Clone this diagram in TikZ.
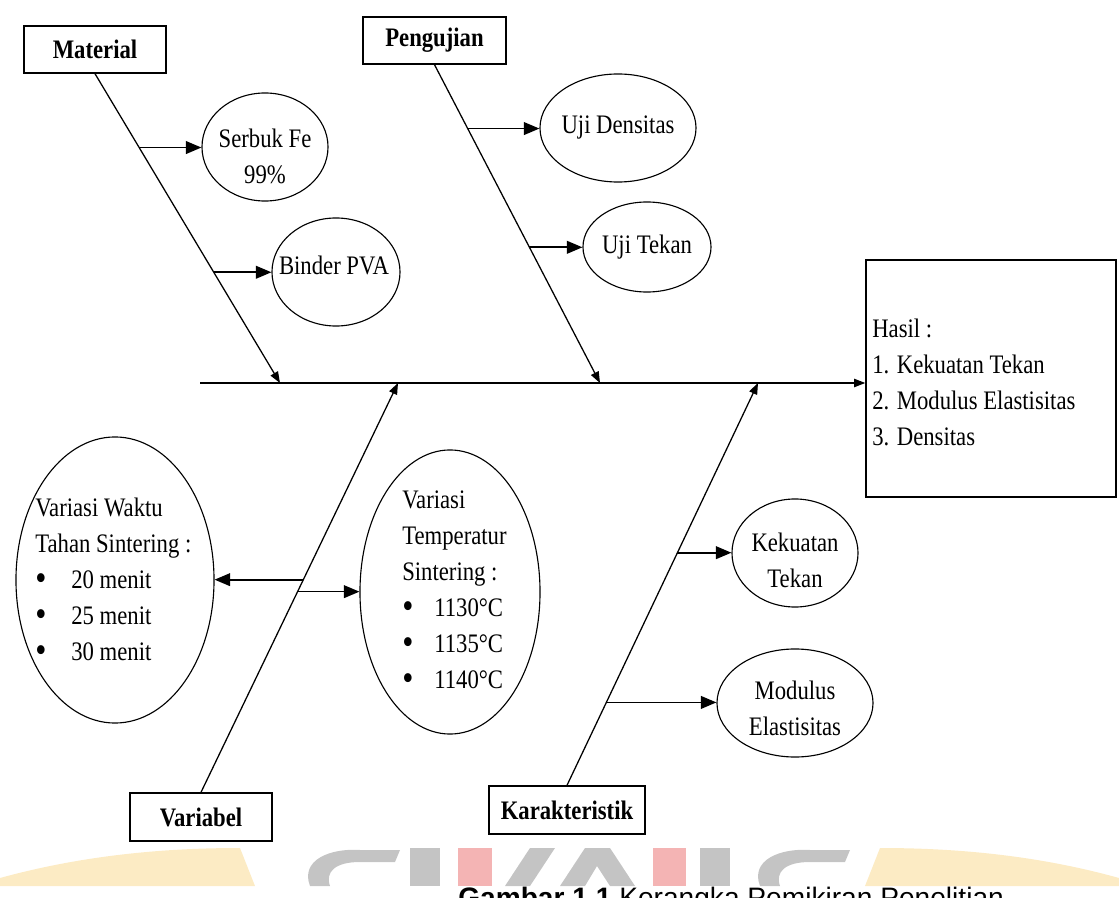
\documentclass[tikz,border=0pt]{standalone}
\usepackage{fontspec}
\setmainfont{Liberation Serif}[FakeStretch=0.85]
\newfontfamily\capfont{Liberation Sans}
\usetikzlibrary{arrows.meta,calc,shapes.geometric}
\definecolor{wmyellow}{HTML}{FCEBC4}
\definecolor{wmgray}{HTML}{C4C4C4}
\definecolor{wmpink}{HTML}{F4B4B4}
\newcommand{\mybul}[1]{\makebox[#1][l]{\smash{\raisebox{-0.06em}{\scalebox{1.4}{•}}}}}
\begin{document}
\begin{tikzpicture}[x=0.025cm,y=-0.025cm,
  labelbox/.style={draw, line width=1pt, inner sep=0, font=\fontsize{19}{25.6}\selectfont\bfseries},
  oval/.style={draw, ellipse, line width=0.8pt, inner sep=0},
  txt/.style={inner sep=0, font=\fontsize{19}{25.6}\selectfont, align=center},
  bone/.style={line width=0.9pt, -{Triangle[length=8pt,width=6pt]}},
  branch/.style={line width=1.2pt, -{Triangle[length=11pt,width=9pt]}}]
\clip (0,0) rectangle (1119,898);
\useasboundingbox (0,0) rectangle (1119,898);
% watermark (rough)
\fill[wmyellow] (0,886) -- (0,878) .. controls (80,856) and (160,848) .. (240,848) -- (255,886) -- cycle;
\fill[wmyellow] (1119,886) -- (1119,878) .. controls (1040,856) and (960,848) .. (880,848) -- (865,886) -- cycle;
\fill[wmgray] (310,886) .. controls (300,860) and (330,848) .. (360,850) -- (400,850) -- (395,862) -- (360,862) .. controls (335,862) and (325,872) .. (330,886) -- cycle;
\fill[wmgray] (410,848) -- (440,848) -- (440,886) -- (410,886) -- cycle;
\fill[wmpink] (458,848) -- (492,848) -- (492,886) -- (458,886) -- cycle;
\fill[wmgray] (505,886) -- (530,848) -- (555,848) -- (530,886) -- cycle;
\fill[wmgray] (560,886) -- (585,848) -- (610,848) -- (635,886) -- (610,886) -- (597,866) -- (585,886) -- cycle;
\fill[wmpink] (653,848) -- (686,848) -- (686,886) -- (653,886) -- cycle;
\fill[wmgray] (700,848) -- (730,848) -- (730,886) -- (700,886) -- cycle;
\fill[wmgray] (760,886) .. controls (750,860) and (780,848) .. (810,850) -- (850,850) -- (845,862) -- (810,862) .. controls (785,862) and (775,872) .. (780,886) -- cycle;
% caption (cut by the page edge, as in the reference)
\node[anchor=base west, inner sep=0, font=\capfont\fontsize{20}{24}\selectfont] (cap) at (458,907) {\textbf{Gambar 1.1} Kerangka Pemikiran Penelitian};
% category boxes
\node[labelbox, minimum width=3.55cm, minimum height=1.175cm] (mat) at (95,49.5) {Material};
\node[labelbox, minimum width=3.575cm, minimum height=1.175cm] (pen) at (434.5,40.5) {Pengujian};
\node[labelbox, minimum width=3.55cm, minimum height=1.2cm] (var) at (201,817) {Variabel};
\node[labelbox, minimum width=3.9cm, minimum height=1.2cm] (kar) at (567,810) {Karakteristik};
% result box
\node[draw, line width=1pt, minimum width=6.25cm, minimum height=5.925cm, inner sep=0] (hasil) at (991,378.5) {};
\node[txt, align=left, anchor=north west] (hasilT) at (872,319) {Hasil :\\1. Kekuatan Tekan\\2. Modulus Elastisitas\\3. Densitas};
% spine and bones
\coordinate (s0) at (200,383);
\coordinate (m1) at (280,383);
\coordinate (p1) at (600,383);
\coordinate (v1) at (398,383);
\coordinate (k1) at (758,383);
\draw[bone] (s0) -- (s0 -| hasil.west);
\draw[bone] (mat.south) -- (m1);
\draw[bone] (pen.south) -- (p1);
\draw[bone] (var.north) -- (v1);
\draw[bone] (kar.north) -- (k1);
% ellipses
\node[oval, minimum width=3.15cm, minimum height=2.7cm] (serbuk) at (265,147) {};
\node[txt] (serbukT) at (265,156) {Serbuk Fe\\99\%};
\node[oval, minimum width=3.2cm, minimum height=2.7cm] (binder) at (336,272) {};
\node[txt] (binderT) at (334,265) {Binder PVA};
\node[oval, minimum width=3.9cm, minimum height=2.7cm] (ujid) at (618,128) {};
\node[txt] (ujidT) at (618,128) {Uji Densitas};
\node[oval, minimum width=3.2cm, minimum height=2.25cm] (ujit) at (647,247) {};
\node[txt] (ujitT) at (647,247) {Uji Tekan};
\node[oval, minimum width=3.15cm, minimum height=2.7cm] (kek) at (795,553) {};
\node[txt] (kekT) at (795,560) {Kekuatan\\Tekan};
\node[oval, minimum width=3.9cm, minimum height=2.7cm] (mod) at (795,703) {};
\node[txt] (modT) at (795,708) {Modulus\\Elastisitas};
\node[oval, minimum width=4.95cm, minimum height=7.15cm] (waktu) at (115,580) {};
\node[txt, align=left, anchor=north west] (waktuT) at (35,498) {Variasi Waktu\\Tahan Sintering :\\\mybul{0.9cm}20 menit\\\mybul{0.9cm}25 menit\\\mybul{0.9cm}30 menit};
\node[oval, minimum width=4.5cm, minimum height=7.1cm] (temp) at (450,592) {};
\node[txt, align=left, anchor=north west] (tempT) at (402,491) {Variasi\\Temperatur\\Sintering :\\\mybul{0.8cm}1130°C\\\mybul{0.8cm}1135°C\\\mybul{0.8cm}1140°C};
% branch arrows
\coordinate (a1) at ($(mat.south)!0.2387!(m1)$);
\coordinate (a2) at ($(mat.south)!0.642!(m1)$);
\coordinate (b1) at ($(pen.south)!0.2006!(p1)$);
\coordinate (b2) at ($(pen.south)!0.5737!(p1)$);
\coordinate (c1) at ($(var.north)!0.5195!(v1)$);
\coordinate (c2) at ($(var.north)!0.4902!(v1)$);
\coordinate (d1) at ($(kar.north)!0.5782!(k1)$);
\coordinate (d2) at ($(kar.north)!0.2060!(k1)$);
\draw[branch] (a1) -- (a1 -| serbuk.west);
\draw[branch] (a2) -- (a2 -| binder.west);
\draw[branch] (b1) -- (b1 -| ujid.west);
\draw[branch] (b2) -- (b2 -| ujit.west);
\draw[branch] (c1) -- (c1 -| waktu.east);
\draw[branch] (c2) -- (c2 -| temp.west);
\draw[branch] (d1) -- (d1 -| kek.west);
\draw[branch] (d2) -- (d2 -| mod.west);
\end{tikzpicture}
\end{document}
